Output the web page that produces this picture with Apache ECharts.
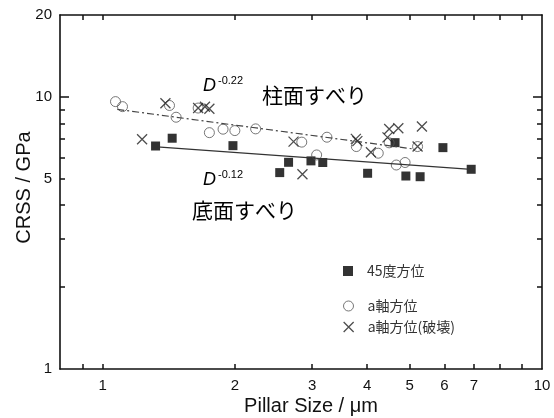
<!DOCTYPE html>
<html>
<head>
<meta charset="utf-8">
<script src="https://cdn.jsdelivr.net/npm/echarts@6/dist/echarts.min.js"></script>
<style>
  html, body { margin: 0; padding: 0; background: #fff; }
  #chart { width: 554px; height: 418px; }
</style>
</head>
<body>
<div id="chart"></div>
<script>
// 45度方位 [pillar size um, CRSS GPa]
var sq45 = [
  [1.32, 6.60], [1.44, 7.05], [1.98, 6.62], [2.53, 5.27], [2.65, 5.75],
  [2.98, 5.82], [3.17, 5.74], [4.01, 5.24], [4.63, 6.79], [4.90, 5.12],
  [5.28, 5.09], [5.95, 6.51], [6.90, 5.42]
]
// a軸方位
var aAxis = [
  [1.07, 9.61], [1.11, 9.21], [1.42, 9.30], [1.47, 8.42], [1.65, 9.10],
  [1.75, 7.39], [1.88, 7.61], [2.00, 7.52], [2.23, 7.63], [2.84, 6.82],
  [3.07, 6.12], [3.24, 7.11], [3.78, 6.57], [4.24, 6.21], [4.49, 6.78],
  [4.66, 5.62], [4.88, 5.74], [5.21, 6.57]
]
// a軸方位(破壊)
var aAxisBroken = [
  [1.23, 6.99], [1.39, 9.48], [1.65, 9.10], [1.71, 9.20], [1.75, 9.05],
  [2.72, 6.85], [2.85, 5.20], [3.77, 7.01], [3.80, 6.88], [4.08, 6.26],
  [4.45, 7.10], [4.49, 7.62], [4.71, 7.67], [5.21, 6.57], [5.33, 7.78]
]
// fitted lines (end points)
var fitPrism = [[1.08, 9.0], [5.15, 6.42]]   // D^-0.22
var fitBasal = [[1.33, 6.55], [6.90, 5.42]]  // D^-0.12

var xTicks = [0.9, 1, 2, 3, 4, 5, 6, 7, 8, 9]
var xLabels = [1, 2, 3, 4, 5, 6, 7, 10]
var yTicks = [2, 3, 4, 5, 6, 7, 8, 9]
var yMajor = [10]
var yLabels = [1, 5, 10, 20]

var latin = '"Liberation Sans", Arial, sans-serif'
var cjk = '"Noto Sans CJK JP", sans-serif'
var axisColor = '#111'
var crossPath = 'path://M0,0L10,10M10,0L0,10'

function xAx (pos, showLabel) {
  return {
    type: 'log', min: 0.8, max: 10, position: pos,
    axisLine: { lineStyle: { color: axisColor, width: 1.6 } },
    axisTick: { inside: true, length: 5, customValues: xTicks, lineStyle: { color: axisColor, width: 1.5 } },
    axisLabel: { show: showLabel, customValues: xLabels, margin: 9, color: axisColor, fontSize: 15, fontFamily: latin },
    splitLine: { show: false },
    minorTick: { show: false }
  }
}
function yAx (pos, ticks, len, showLine, showLabel) {
  return {
    type: 'log', min: 1, max: 20, position: pos,
    axisLine: { show: showLine, lineStyle: { color: axisColor, width: 1.6 } },
    axisTick: { inside: true, length: len, customValues: ticks, lineStyle: { color: axisColor, width: 1.5 } },
    axisLabel: { show: showLabel, customValues: yLabels, margin: 8, color: axisColor, fontSize: 15, fontFamily: latin },
    splitLine: { show: false },
    minorTick: { show: false }
  }
}

var xBottom = xAx('bottom', true)
xBottom.name = 'Pillar Size / μm'
xBottom.nameLocation = 'middle'
xBottom.nameGap = 27
xBottom.nameMoveOverlap = false
xBottom.nameTextStyle = { color: axisColor, fontSize: 20, fontFamily: latin, padding: [0, 0, 0, 20] }

var yLeft = yAx('left', yTicks, 5, true, true)
yLeft.name = 'CRSS / GPa'
yLeft.nameLocation = 'middle'
yLeft.nameGap = 26
yLeft.nameMoveOverlap = false
yLeft.nameTextStyle = { color: axisColor, fontSize: 20, fontFamily: latin, padding: [0, 0, 0, 9] }

var legendText = { color: '#333', fontSize: 14, fontFamily: cjk, padding: [0, 0, 0, 9] }

var chart = echarts.init(document.getElementById('chart'))
chart.setOption({
  animation: false,
  grid: { left: 60, right: 12, top: 15, bottom: 49, containLabel: false, outerBoundsMode: 'none' },
  xAxis: [xBottom, xAx('top', false)],
  yAxis: [
    yLeft,
    yAx('right', yTicks, 5, true, false),
    yAx('left', yMajor, 9, false, false),
    yAx('right', yMajor, 9, false, false)
  ],
  legend: [
    { data: ['45度方位'], left: 343, top: 264, padding: 0, itemWidth: 10, itemHeight: 10, selectedMode: false, textStyle: legendText, itemStyle: { borderWidth: 0 } },
    { data: ['a軸方位'], left: 343, top: 299, padding: 0, itemWidth: 10, itemHeight: 10, selectedMode: false, textStyle: legendText, itemStyle: { borderWidth: 1 } },
    { data: ['a軸方位(破壊)'], left: 343, top: 320, padding: 0, itemWidth: 10, itemHeight: 10, selectedMode: false, textStyle: legendText, itemStyle: { borderWidth: 1.3 } }
  ],
  graphic: [
    { type: 'text', x: 203, y: 86, style: { text: 'D', fill: '#000', font: 'italic 18px ' + latin, verticalAlign: 'middle' } },
    { type: 'text', x: 218, y: 81, style: { text: '-0.22', fill: '#000', font: '11px ' + latin, verticalAlign: 'middle' } },
    { type: 'text', x: 203, y: 180, style: { text: 'D', fill: '#000', font: 'italic 18px ' + latin, verticalAlign: 'middle' } },
    { type: 'text', x: 218, y: 175, style: { text: '-0.12', fill: '#000', font: '11px ' + latin, verticalAlign: 'middle' } },
    { type: 'text', x: 262, y: 95, style: { text: '柱面すべり', fill: '#000', font: '21px ' + cjk, verticalAlign: 'middle' } },
    { type: 'text', x: 192, y: 210, style: { text: '底面すべり', fill: '#000', font: '21px ' + cjk, verticalAlign: 'middle' } }
  ],
  series: [
    {
      name: 'fitPrism', type: 'line', data: fitPrism, symbol: 'none', silent: true,
      lineStyle: { color: '#444', width: 1.2, type: [7, 3, 2, 3] }
    },
    {
      name: 'fitBasal', type: 'line', data: fitBasal, symbol: 'none', silent: true,
      lineStyle: { color: '#333', width: 1.3 }
    },
    {
      name: '45度方位', type: 'scatter', data: sq45, symbol: 'rect', symbolSize: 9,
      itemStyle: { color: '#000' }
    },
    {
      name: 'a軸方位', type: 'scatter', data: aAxis, symbol: 'circle', symbolSize: 10,
      itemStyle: { color: 'rgba(0,0,0,0)', borderColor: '#555', borderWidth: 1 }
    },
    {
      name: 'a軸方位(破壊)', type: 'scatter', data: aAxisBroken, symbol: crossPath, symbolSize: 10,
      itemStyle: { color: 'rgba(0,0,0,0)', borderColor: '#222', borderWidth: 1.3 }
    }
  ]
})
</script>
</body>
</html>
